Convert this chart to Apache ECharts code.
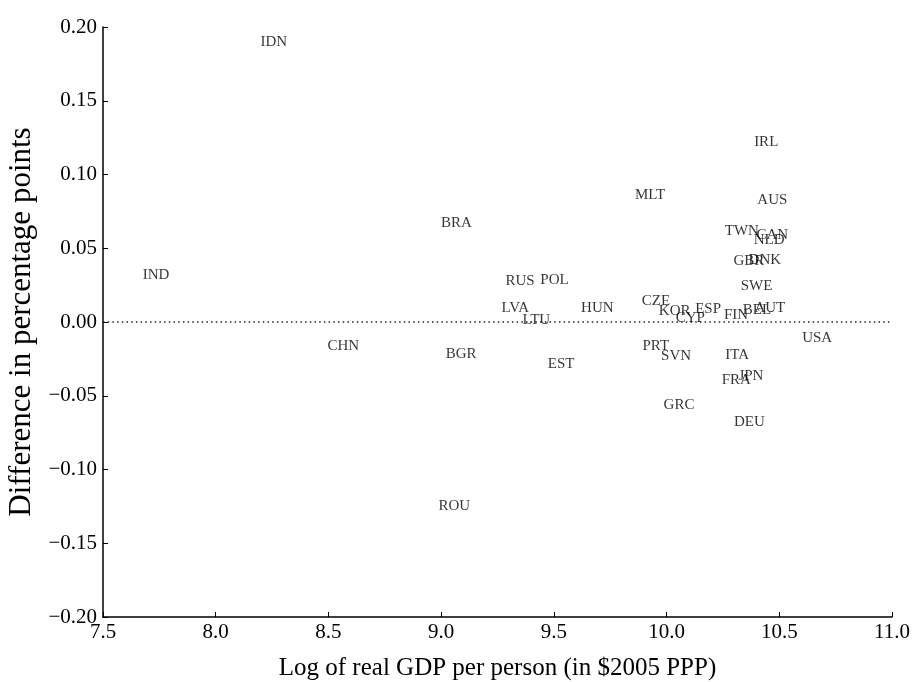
<!DOCTYPE html>
<html>
<head>
<meta charset="utf-8">
<script src="https://cdn.jsdelivr.net/npm/echarts@6/dist/echarts.min.js"></script>
<style>html,body{margin:0;padding:0;background:#fff;}#c{width:912px;height:682px;}</style>
</head>
<body>
<div id="c"></div>
<script>
const countries = ['IDN','IRL','AUS','MLT','BRA','TWN','CAN','NLD','GBR','DNK','IND','RUS','POL','SWE','LVA','HUN','CZE','KOR','ESP','CYP','FIN','BEL','AUT','LTU','CHN','USA','BGR','PRT','SVN','EST','ITA','JPN','FRA','GRC','DEU','ROU'];
const logGdp = [8.258,10.442,10.469,9.927,9.068,10.334,10.469,10.455,10.365,10.436,7.735,9.350,9.503,10.399,9.329,9.693,9.953,10.036,10.184,10.105,10.308,10.401,10.458,9.422,8.566,10.668,9.089,9.952,10.042,9.532,10.313,10.374,10.309,10.055,10.367,9.058];
const diffPts = [0.1895,0.122,0.0828,0.0858,0.0668,0.0614,0.0591,0.0557,0.0410,0.0422,0.0315,0.0275,0.0285,0.0241,0.0092,0.0092,0.0144,0.0071,0.0089,0.0028,0.0046,0.0083,0.0096,0.0012,-0.0166,-0.0110,-0.0218,-0.0166,-0.0234,-0.0288,-0.0227,-0.0369,-0.0392,-0.0561,-0.0675,-0.1251];
const xTicks = [7.5, 11.0, 0.5];   // min, max, interval
const yTicks = [-0.20, 0.20, 0.05];

const serif = "'Liberation Serif','DejaVu Serif','Times New Roman',serif";
const data = countries.map((c, i) => ({ name: c, value: [logGdp[i], diffPts[i]] }));

const chart = echarts.init(document.getElementById('c'), null, { renderer: 'canvas' });
chart.setOption({
  backgroundColor: '#fff',
  animation: false,
  grid: { left: 103, right: 20, top: 27, bottom: 65, containLabel: false, outerBoundsMode: 'none' },
  xAxis: {
    type: 'value', min: xTicks[0], max: xTicks[1], interval: xTicks[2],
    name: 'Log of real GDP per person (in $2005 PPP)',
    nameLocation: 'middle', nameGap: 39,
    nameTextStyle: { fontFamily: serif, fontSize: 25, color: '#000' },
    axisLine: { show: true, onZero: false, lineStyle: { color: '#000', width: 1.5 } },
    axisTick: { show: true, inside: true, length: 5, lineStyle: { color: '#000', width: 1 } },
    axisLabel: { fontFamily: serif, fontSize: 21, color: '#000', margin: 5,
      formatter: v => v.toFixed(1) },
    splitLine: { show: false }
  },
  yAxis: {
    type: 'value', min: yTicks[0], max: yTicks[1], interval: yTicks[2],
    name: 'Difference in percentage points',
    nameLocation: 'middle', nameGap: 63,
    nameTextStyle: { fontFamily: serif, fontSize: 31, color: '#000' },
    axisLine: { show: true, onZero: false, lineStyle: { color: '#000', width: 1.5 } },
    axisTick: { show: true, inside: true, length: 5, lineStyle: { color: '#000', width: 1 } },
    axisLabel: { fontFamily: serif, fontSize: 21, color: '#000', margin: 6,
      formatter: v => Math.abs(v) < 1e-9 ? '0.00' : (v < 0 ? '\u2212' + Math.abs(v).toFixed(2) : v.toFixed(2)) },
    splitLine: { show: false }
  },
  series: [
    {
      type: 'line',
      data: [[xTicks[0], 0], [xTicks[1], 0]],
      symbol: 'none',
      silent: true,
      lineStyle: { color: '#222', width: 1.5, type: [1.5, 3.2] },
      z: 1
    },
    {
      type: 'scatter',
      data: data,
      symbolSize: 1,
      itemStyle: { color: 'rgba(0,0,0,0)' },
      label: {
        show: true, position: 'inside', formatter: '{b}', offset: [0, 2],
        fontFamily: serif, fontSize: 15, color: '#000'
      },
      labelLayout: { hideOverlap: false },
      z: 2
    }
  ]
});
</script>
</body>
</html>
